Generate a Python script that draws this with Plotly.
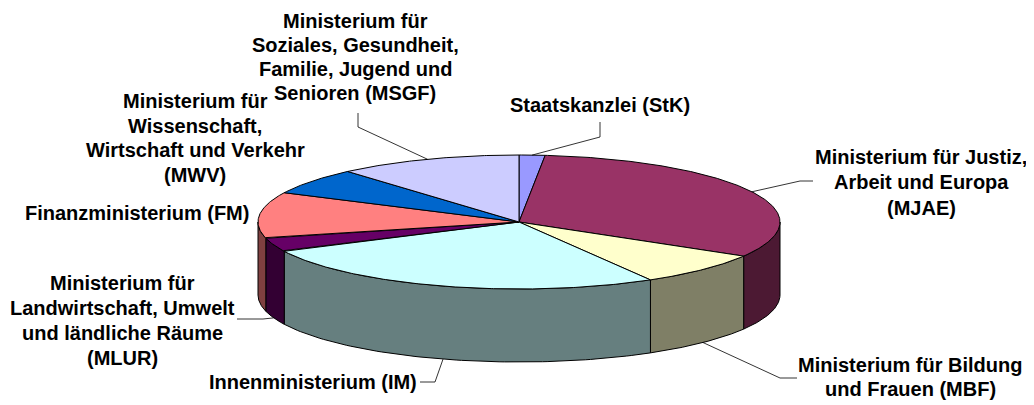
import numpy as np
import plotly.graph_objects as go

# ---- data (shares in %, clockwise from 12 o'clock) ----
categories = ["StK", "MJAE", "MBF", "IM", "MLUR", "FM", "MWV", "MSGF"]
values = [1.6, 31.9, 8.1, 26.2, 3.3, 11.1, 6.4, 11.4]
label_lines = [
    ["Staatskanzlei (StK)"],
    ["Ministerium für Justiz,", "Arbeit und Europa", "(MJAE)"],
    ["Ministerium für Bildung", "und Frauen (MBF)"],
    ["Innenministerium (IM)"],
    ["Ministerium für", "Landwirtschaft, Umwelt", "und ländliche Räume", "(MLUR)"],
    ["Finanzministerium (FM)"],
    ["Ministerium für", "Wissenschaft,", "Wirtschaft und Verkehr", "(MWV)"],
    ["Ministerium für", "Soziales, Gesundheit,", "Familie, Jugend und", "Senioren (MSGF)"],
]
top_colors = ["#9999FF", "#993366", "#FFFFCC", "#CCFFFF", "#660066", "#FF8080", "#0066CC", "#CCCCFF"]

# ---- layout / style ----
W, H = 1034, 405
OFF = 8  # page body margin
CX, CY, RX, RY, DEPTH = 519, 222, 261, 67, 73
label_pos = [(600, 105), (921, 182), (910, 377), (313, 382), (122, 320), (137, 213), (195, 138), (355, 57)]
line_h = [24.5, 25.5, 24.0, 24.5, 25.0, 24.5, 24.5, 23.7]
# leader line start and bend (None = no leader)
leader_pts = [
    [(600, 122), (600, 137)],
    [(813, 181), (800, 181)],
    [(797, 378), (780, 378)],
    [(420, 382), (435, 382)],
    [(237, 319), (263, 319)],
    None,
    None,
    [(358, 113), (358, 127)],
]


def darken(hexcol, f=0.5):
    h = hexcol.lstrip("#")
    r, g, b = (int(h[i:i + 2], 16) for i in (0, 2, 4))
    return "#%02X%02X%02X" % (int(r * f), int(g * f), int(b * f))


def ell(t_deg, dy=0.0):
    t = np.radians(t_deg)
    return CX + RX * np.sin(t), CY - RY * np.cos(t) + dy


total = sum(values)
bounds = np.concatenate([[0], np.cumsum(values) / total * 360.0])

fig = go.Figure()

# side faces (front half only, 90..270 deg)
for i, col in enumerate(top_colors):
    a0, a1 = bounds[i], bounds[i + 1]
    s0, s1 = max(a0, 90), min(a1, 270)
    if s1 > s0:
        t = np.linspace(s0, s1, 80)
        xt, yt = ell(t)
        xb, yb = ell(t[::-1], DEPTH)
        xs = np.concatenate([xt, xb, xt[:1]])
        ys = np.concatenate([yt, yb, yt[:1]])
        fig.add_trace(go.Scatter(x=xs, y=ys, mode="lines", fill="toself",
                                 fillcolor=darken(col), line=dict(color="black", width=1),
                                 hoverinfo="skip", showlegend=False))

# top faces
for i, col in enumerate(top_colors):
    a0, a1 = bounds[i], bounds[i + 1]
    t = np.linspace(a0, a1, max(8, int((a1 - a0) * 2)))
    xt, yt = ell(t)
    xs = np.concatenate([[CX], xt, [CX]])
    ys = np.concatenate([[CY], yt, [CY]])
    fig.add_trace(go.Scatter(x=xs, y=ys, mode="lines", fill="toself",
                             fillcolor=col, line=dict(color="black", width=1),
                             hoverinfo="skip", showlegend=False))

# leader lines: end at slice mid-angle (top rim for back, bottom rim for front)
for i, pts in enumerate(leader_pts):
    if pts is None:
        continue
    mid = (bounds[i] + bounds[i + 1]) / 2
    front = 90 < mid < 270
    ex, ey = ell(mid, DEPTH if front else 0)
    xs = [p[0] for p in pts] + [ex]
    ys = [p[1] for p in pts] + [ey]
    fig.add_trace(go.Scatter(x=xs, y=ys, mode="lines", line=dict(color="black", width=0.8),
                             hoverinfo="skip", showlegend=False))

for lines, (lx, ly), lh in zip(label_lines, label_pos, line_h):
    n = len(lines)
    for k, txt in enumerate(lines):
        fig.add_annotation(x=lx, y=ly + (k - (n - 1) / 2) * lh, xref="x", yref="y",
                           text=txt, showarrow=False, borderpad=0,
                           xanchor="center", yanchor="middle", align="center",
                           font=dict(family="Liberation Sans, Arial, sans-serif", size=20,
                                     color="black", weight="bold"))

fig.update_layout(
    width=W - OFF, height=H - OFF, margin=dict(l=0, r=0, t=0, b=0),
    paper_bgcolor="white", plot_bgcolor="white",
    xaxis=dict(range=[OFF, W], visible=False, fixedrange=True),
    yaxis=dict(range=[H, OFF], visible=False, fixedrange=True),
    showlegend=False,
)

fig.write_html("out.html")
